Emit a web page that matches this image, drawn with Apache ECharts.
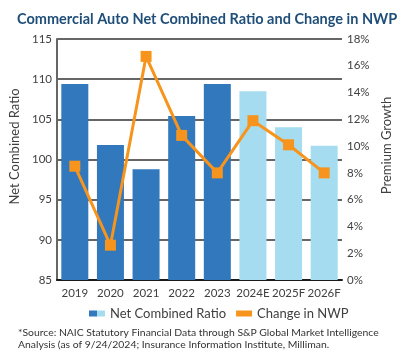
<!DOCTYPE html>
<html><head><meta charset="utf-8">
<script src="https://cdn.jsdelivr.net/npm/echarts@6/dist/echarts.min.js"></script>
<style>html,body{margin:0;padding:0;background:#fff}#c{width:410px;height:355px}</style>
</head><body><div id="c"></div>
<script>
const categories = ['2019','2020','2021','2022','2023','2024E','2025F','2026F'];
const netCombinedRatio = [109.4, 101.8, 98.8, 105.4, 109.4, 108.5, 104.0, 101.7];
const changeInNWP = [8.5, 2.6, 16.7, 10.8, 8.0, 11.9, 10.1, 8.0];
const forecastFrom = 5; // index of first estimate/forecast category
const leftTicks = {min: 85, max: 115, interval: 5};
const rightTicks = {min: 0, max: 18, interval: 2};

const DARK = '#3178bd', LIGHT = '#a6dcf0', ORANGE = '#f7941d', TXT = '#404040';
const FONT = 'Lato, "Liberation Sans", Arial, sans-serif';
const chart = echarts.init(document.getElementById('c'), null, {renderer: 'canvas'});
chart.setOption({
  animation: false,
  textStyle: {fontFamily: FONT},
  title: [
    {text: 'Commercial Auto Net Combined Ratio and Change in NWP', left: 12, top: 7,
     textStyle: {fontSize: 14.5, fontWeight: 'bold', color: '#1f4e79', fontFamily: FONT}},
    {text: '*Source: NAIC Statutory Financial Data through S&P Global Market Intelligence\nAnalysis (as of 9/24/2024; Insurance Information Institute, Milliman.',
     left: 13, top: 322,
     textStyle: {fontSize: 10.4, fontWeight: 'normal', lineHeight: 12, color: '#333', fontFamily: FONT}}
  ],
  grid: {left: 57, right: 68, top: 39, bottom: 75},
  legend: {
    left: 84, top: 302, itemWidth: 16, itemHeight: 6, itemGap: 10, icon: 'rect',
    textStyle: {fontSize: 13, color: TXT, fontFamily: FONT},
    data: [
      {name: 'Net Combined Ratio', itemStyle: {color: {type: 'linear', x: 0, y: 0, x2: 1, y2: 0,
        colorStops: [{offset: 0, color: DARK}, {offset: 0.5, color: DARK}, {offset: 0.5, color: LIGHT}, {offset: 1, color: LIGHT}]}}},
      {name: 'Change in NWP', itemStyle: {color: ORANGE}}
    ]
  },
  xAxis: {
    type: 'category', data: categories,
    axisLine: {lineStyle: {color: '#1a1a1a', width: 2}},
    axisTick: {show: false},
    axisLabel: {fontSize: 11.5, color: TXT, margin: 7, interval: 0}
  },
  yAxis: [
    {type: 'value', min: leftTicks.min, max: leftTicks.max, interval: leftTicks.interval,
     name: 'Net Combined Ratio', nameLocation: 'middle', nameGap: 34,
     nameTextStyle: {fontSize: 13, color: TXT, padding: [0, 0, 0, 26]},
     axisLine: {show: true, lineStyle: {color: '#666', width: 2}},
     axisTick: {show: false},
     axisLabel: {fontSize: 11.5, color: TXT, margin: 5},
     splitLine: {lineStyle: {color: '#666', width: 2}}},
    {type: 'value', min: rightTicks.min, max: rightTicks.max, interval: rightTicks.interval,
     name: 'Premium Growth', nameLocation: 'middle', nameGap: 38,
     nameTextStyle: {fontSize: 13, color: TXT, padding: [0, 0, 0, 28]},
     axisLine: {show: false}, axisTick: {show: false},
     axisLabel: {fontSize: 11.5, color: TXT, margin: 5, formatter: '{value}%'},
     splitLine: {show: false}}
  ],
  series: [
    {name: 'Net Combined Ratio', type: 'bar', barWidth: 27, z: 3,
     data: netCombinedRatio.map((v, i) => ({value: v, itemStyle: {color: i >= forecastFrom ? LIGHT : DARK}}))},
    {name: 'Change in NWP', type: 'line', yAxisIndex: 1, z: 5,
     symbol: 'rect', symbolSize: 11, showSymbol: true,
     lineStyle: {color: ORANGE, width: 3}, itemStyle: {color: ORANGE},
     data: changeInNWP}
  ]
});
</script></body></html>
